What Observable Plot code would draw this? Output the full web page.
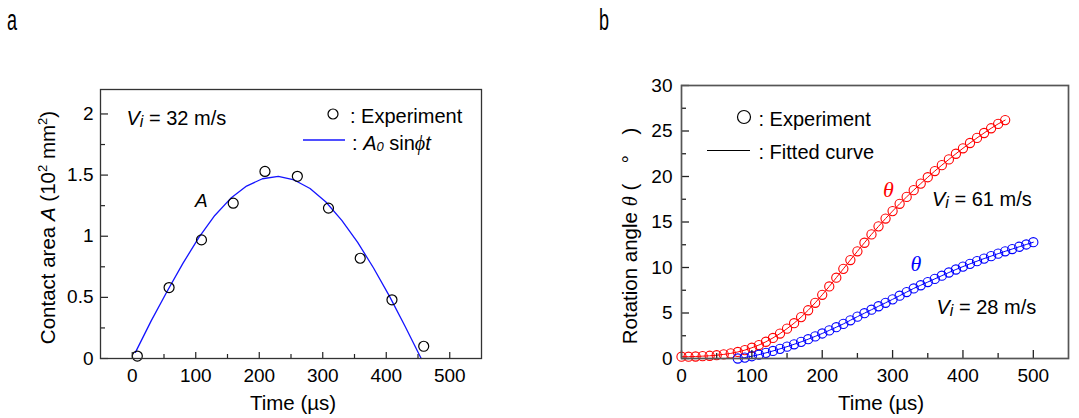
<!DOCTYPE html>
<html><head><meta charset="utf-8">
<script src="https://cdn.jsdelivr.net/npm/d3@7"></script>
<script src="https://cdn.jsdelivr.net/npm/@observablehq/plot@0.6"></script>
<style>
html,body{margin:0;padding:0;background:#fff;}
#root{position:relative;width:1079px;height:418px;overflow:hidden;font-family:"Liberation Sans",Arial,sans-serif;}
#root > svg{position:absolute;top:0;}
</style></head><body><div id="root"></div>
<script>
// ---------- Panel a data ----------
const timeA = [8, 58, 109, 159, 209, 260, 309, 359, 409, 459];
const areaA = [0.02, 0.58, 0.97, 1.27, 1.53, 1.49, 1.23, 0.82, 0.48, 0.10];
const fitTimeA = [5, 30, 55, 80, 105, 130, 155, 180, 205, 230, 255, 280, 305, 330, 355, 380, 405, 430, 455];
const fitAreaA = [0.05, 0.31, 0.55, 0.78, 0.99, 1.17, 1.31, 1.41, 1.47, 1.49, 1.46, 1.39, 1.28, 1.13, 0.95, 0.74, 0.51, 0.26, 0.0];
const xTicksA = [0, 100, 200, 300, 400, 500];
const xMinorA = [50, 150, 250, 350, 450];
const yTicksA = [0, 0.5, 1, 1.5, 2];
const yMinorA = [0.25, 0.75, 1.25, 1.75];

// ---------- Panel b data ----------
const timeRed = [0,10,20,30,40,50,60,70,80,90,100,110,120,130,140,150,160,170,180,190,200,210,220,230,240,250,260,270,280,290,300,310,320,330,340,350,360,370,380,390,400,410,420,430,440,450,460];
const thetaRed = [0.20,0.20,0.22,0.26,0.30,0.36,0.45,0.56,0.72,0.92,1.18,1.48,1.84,2.26,2.74,3.28,3.88,4.55,5.30,6.12,7.00,7.92,8.88,9.85,10.82,11.78,12.72,13.64,14.52,15.38,16.20,17.00,17.76,18.50,19.22,19.92,20.60,21.25,21.88,22.50,23.10,23.68,24.24,24.78,25.30,25.78,26.20];
const timeBlue = [80,90,100,110,120,130,140,150,160,170,180,190,200,210,220,230,240,250,260,270,280,290,300,310,320,330,340,350,360,370,380,390,400,410,420,430,440,450,460,470,480,490,500];
const thetaBlue = [0.00,0.10,0.25,0.42,0.62,0.83,1.06,1.30,1.56,1.83,2.12,2.43,2.75,3.09,3.44,3.80,4.20,4.60,4.98,5.36,5.74,6.12,6.50,6.90,7.30,7.70,8.05,8.40,8.75,9.10,9.45,9.78,10.10,10.40,10.70,10.98,11.25,11.52,11.78,12.03,12.28,12.53,12.78];
const xTicksB = [0, 100, 200, 300, 400, 500];
const xMinorB = [50, 150, 250, 350, 450];
const yTicksB = [0, 5, 10, 15, 20, 25, 30];
const yMinorB = [2.5, 7.5, 12.5, 17.5, 22.5, 27.5];

const FONT = '"Liberation Sans", Arial, sans-serif';
const root = document.getElementById("root");

const expA = timeA.map((t, i) => ({t, v: areaA[i]}));
const fitA = fitTimeA.map((t, i) => ({t, v: fitAreaA[i]}));
const red = timeRed.map((t, i) => ({t, v: thetaRed[i]}));
const blue = timeBlue.map((t, i) => ({t, v: thetaBlue[i]}));
const fmt = d => String(d);
const axisText = {tickSize: 0, fontSize: 19, fontFamily: FONT, fontVariant: "normal", label: null, tickFormat: fmt};

// Panel a
const WA = 540, HA = 418, mlA = 100, mrA = 59, mtA = 89, mbA = 60;
const fwA = WA - mlA - mrA, fhA = HA - mtA - mbA;
const plotA = Plot.plot({
  width: WA, height: HA,
  marginLeft: mlA, marginRight: mrA, marginTop: mtA, marginBottom: mbA,
  x: {domain: [-50, 550]},
  y: {domain: [0, 2.2]},
  style: {fontFamily: FONT, background: "transparent", color: "black"},
  marks: [
    Plot.line(fitA, {x: "t", y: "v", stroke: "#1414ff", strokeWidth: 1.3}),
    Plot.dot(expA, {x: "t", y: "v", r: 5, stroke: "black", strokeWidth: 1.2, fill: "none"}),
    Plot.tickX(xTicksA, {x: d => d, insetTop: fhA - 6, stroke: "#222", strokeWidth: 1.2}),
    Plot.tickX(xMinorA, {x: d => d, insetTop: fhA - 4, stroke: "#222", strokeWidth: 1.2}),
    Plot.tickY(yTicksA, {y: d => d, insetRight: fwA - 8, stroke: "#222", strokeWidth: 1.2}),
    Plot.tickY(yMinorA, {y: d => d, insetRight: fwA - 5, stroke: "#222", strokeWidth: 1.2}),
    Plot.frame({stroke: "#333", strokeWidth: 1.3}),
    Plot.axisX(xTicksA, {...axisText, tickPadding: 10}),
    Plot.axisY(yTicksA, {...axisText, tickPadding: 7})
  ]
});
plotA.style.left = "0px";
root.appendChild(plotA);

// Panel b
const offB = 540;
const WB = 539, HB = 418, mlB = 141, mrB = 11, mtB = 85, mbB = 60;
const fwB = WB - mlB - mrB, fhB = HB - mtB - mbB;
const plotB = Plot.plot({
  width: WB, height: HB,
  marginLeft: mlB, marginRight: mrB, marginTop: mtB, marginBottom: mbB,
  x: {domain: [0, 550]},
  y: {domain: [0, 30]},
  style: {fontFamily: FONT, background: "transparent", color: "black"},
  marks: [
    Plot.line(red, {x: "t", y: "v", stroke: "#ff0000", strokeWidth: 1}),
    Plot.line(blue, {x: "t", y: "v", stroke: "#0000ff", strokeWidth: 1}),
    Plot.dot(red, {x: "t", y: "v", r: 4.6, stroke: "#ff0000", strokeWidth: 1.1, fill: "none"}),
    Plot.dot(blue, {x: "t", y: "v", r: 4.6, stroke: "#0000ff", strokeWidth: 1.1, fill: "none"}),
    Plot.tickX(xTicksB, {x: d => d, insetTop: fhB - 8, stroke: "#222", strokeWidth: 1.3}),
    Plot.tickX(xMinorB, {x: d => d, insetTop: fhB - 5, stroke: "#222", strokeWidth: 1.3}),
    Plot.tickY(yTicksB, {y: d => d, insetRight: fwB - 8, stroke: "#222", strokeWidth: 1.3}),
    Plot.tickY(yMinorB, {y: d => d, insetRight: fwB - 5, stroke: "#222", strokeWidth: 1.3}),
    Plot.frame({stroke: "#555", strokeWidth: 1.7}),
    Plot.axisX(xTicksB, {...axisText, tickPadding: 10}),
    Plot.axisY(yTicksB, {...axisText, tickPadding: 9})
  ]
});
plotB.style.left = offB + "px";
root.appendChild(plotB);

// Overlay for titles, legends, annotations
const ns = "http://www.w3.org/2000/svg";
const ov = document.createElementNS(ns, "svg");
ov.setAttribute("width", 1079); ov.setAttribute("height", 418);
ov.style.position = "absolute"; ov.style.left = "0px"; ov.style.top = "0px";
ov.style.fontFamily = FONT;
root.appendChild(ov);

const SERIF = '"Liberation Serif", "Times New Roman", serif';
function txt(x, y, segs, o = {}) {
  const t = document.createElementNS(ns, "text");
  t.setAttribute("x", x); t.setAttribute("y", y);
  t.setAttribute("font-size", o.size || 20);
  t.setAttribute("fill", o.fill || "black");
  t.style.whiteSpace = "pre";
  if (o.anchor) t.setAttribute("text-anchor", o.anchor);
  if (o.transform) t.setAttribute("transform", o.transform);
  for (const s of segs) {
    const sp = document.createElementNS(ns, "tspan");
    sp.textContent = s.t;
    if (s.i) sp.setAttribute("font-style", "italic");
    if (s.f) sp.setAttribute("font-family", s.f);
    if (s.s) sp.setAttribute("font-size", s.s);
    if (s.dy) sp.setAttribute("dy", s.dy);
    t.appendChild(sp);
  }
  ov.appendChild(t);
  return t;
}
function el(name, attrs) {
  const e = document.createElementNS(ns, name);
  for (const k in attrs) e.setAttribute(k, attrs[k]);
  ov.appendChild(e);
  return e;
}

// Panel letters
txt(0, 0, [{t: "a"}], {size: 29, transform: "translate(7,30) scale(0.62,1)"});
txt(0, 0, [{t: "b"}], {size: 29, transform: "translate(599,30) scale(0.62,1)"});

// Panel a annotations
txt(126.5, 125, [{t: "V", i: true}, {t: "i", i: true, s: 16, dy: 1.5}, {t: " = 32 m/s", dy: -1.5}]);
el("circle", {cx: 333, cy: 114, r: 5, fill: "none", stroke: "black", "stroke-width": 1.2});
txt(350, 122.5, [{t: ": Experiment"}]);
el("line", {x1: 303, x2: 345, y1: 140, y2: 140, stroke: "#1414ff", "stroke-width": 1.6});
txt(352, 149.5, [{t: ": "}, {t: "A", i: true}, {t: "0", i: true, s: 13, dy: 1}, {t: " sin", dy: -1}, {t: "ϕ", i: true, f: SERIF}, {t: "t", i: true}]);
txt(195, 207, [{t: "A", i: true}], {size: 19});
txt(293, 410, [{t: "Time (µs)"}], {size: 20.5, anchor: "middle"});
txt(0, 0, [{t: "Contact area "}, {t: "A", i: true}, {t: " (10"}, {t: "2", s: 13, dy: -8}, {t: " mm", dy: 8}, {t: "2", s: 13, dy: -8}, {t: ")", dy: 8}],
  {size: 20.5, anchor: "middle", transform: "translate(55,227.5) rotate(-90)"});

// Panel b annotations
el("circle", {cx: 744, cy: 117, r: 6.5, fill: "none", stroke: "black", "stroke-width": 1.2});
txt(758.5, 125.5, [{t: ": Experiment"}]);
el("line", {x1: 707, x2: 750, y1: 150.5, y2: 150.5, stroke: "black", "stroke-width": 1});
txt(758.5, 159, [{t: ": Fitted curve"}]);
txt(883, 196.5, [{t: "θ", i: true, f: SERIF}], {size: 22, fill: "#ff0000"});
txt(932, 206, [{t: "V", i: true}, {t: "i", i: true, s: 16, dy: 1.5}, {t: " = 61 m/s", dy: -1.5}]);
txt(910.5, 270.5, [{t: "θ", i: true, f: SERIF}], {size: 22, fill: "#0000ff"});
txt(936.5, 314, [{t: "V", i: true}, {t: "i", i: true, s: 16, dy: 1.5}, {t: " = 28 m/s", dy: -1.5}]);
txt(881, 410, [{t: "Time (µs)"}], {size: 20.5, anchor: "middle"});
txt(0, 0, [{t: "Rotation angle "}, {t: "θ", i: true, f: SERIF}, {t: " (\u2003°\u2003)"}],
  {size: 20.5, anchor: "middle", transform: "translate(637,236) rotate(-90)"});
</script></body></html>
